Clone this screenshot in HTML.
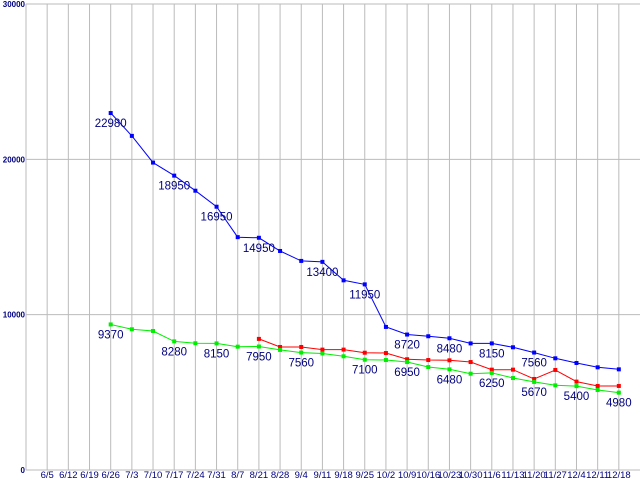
<!DOCTYPE html>
<html><head><meta charset="utf-8"><style>
html,body{margin:0;padding:0;background:#fff;}
svg{display:block;}
text{font-family:"Liberation Sans",sans-serif;}
</style></head><body>
<svg id="chart" width="640" height="480" xmlns="http://www.w3.org/2000/svg"></svg>
<script>
const categories=["6/5","6/12","6/19","6/26","7/3","7/10","7/17","7/24","7/31","8/7","8/21","8/28","9/4","9/11","9/18","9/25","10/2","10/9","10/16","10/23","10/30","11/6","11/13","11/20","11/27","12/4","12/11","12/18"];
const yTicks=[0,10000,20000,30000];
const blueStart=3;
const blueValues=[22980,21510,19790,18950,17980,16950,14990,14950,14100,13460,13400,12210,11950,9210,8720,8610,8480,8150,8150,7900,7560,7190,6890,6610,6480];
const blueLabels=[22980,null,null,18950,null,16950,null,14950,null,null,13400,null,11950,null,8720,null,8480,null,8150,null,7560,null,null,null,null];
const greenStart=3;
const greenValues=[9370,9060,8950,8280,8160,8150,7940,7950,7730,7560,7500,7320,7100,7080,6950,6630,6480,6200,6250,5920,5670,5450,5400,5150,4980];
const greenLabels=[9370,null,null,8280,null,8150,null,7950,null,7560,null,null,7100,null,6950,null,6480,null,6250,null,5670,null,5400,null,4980];
const redStart=10;
const redValues=[8440,7920,7920,7750,7750,7550,7530,7130,7080,7060,6950,6460,6460,5860,6440,5690,5410,5410];

const svg=document.getElementById('chart');
const NS='http://www.w3.org/2000/svg';
const X0=26,X1=640,Y0=470,Y1=4,YMAX=30000;
const step=(X1-X0)/(categories.length+1);
function xAt(i){return X0+step*(i+1);}
function yAt(v){return Y0-(v/YMAX)*(Y0-Y1);}
function mk(tag,attrs,parent){const e=document.createElementNS(NS,tag);for(const k in attrs)e.setAttribute(k,attrs[k]);(parent||svg).appendChild(e);return e;}

const grid=mk('g',{});


yTicks.forEach(t=>{
  const l=mk('line',{x1:X0,x2:X1,y1:yAt(t),y2:yAt(t),stroke:'#bbb','stroke-width':1},grid);
  
  
  const tx=mk('text',{x:X0-1,y:yAt(t)+3,'text-anchor':'end','font-size':8,fill:'#000080','font-weight':'bold'});
  tx.textContent=t;
  
  
});
const ax=mk('line',{x1:X0,x2:X0,y1:Y1,y2:Y0,stroke:'#bbb','stroke-width':1},grid);


categories.forEach((c,i)=>{
  const l=mk('line',{x1:xAt(i),x2:xAt(i),y1:Y1,y2:Y0,stroke:'#bbb','stroke-width':1},grid);
  
  
  const tx=mk('text',{x:xAt(i),y:478,'text-anchor':'middle','font-size':9.5,fill:'#000080','font-family':'Liberation Mono, monospace'});
  tx.textContent=c;
  
  
});

function series(name,color,start,vals,labels){
  const g=mk('g',{});
  
  
  const pts=vals.map((v,j)=>xAt(start+j).toFixed(1)+','+yAt(v).toFixed(1)).join(' ');
  const pl=mk('polyline',{points:pts,fill:'none',stroke:color,'stroke-width':1},g);
  
  
  vals.forEach((v,j)=>{
    const x=xAt(start+j),y=yAt(v);
    const r=mk('rect',{x:x-2,y:y-2,width:4,height:4,fill:color},g);
    
    
    if(labels&&labels[j]!=null){
      const t=mk('text',{x:x,y:y+14,'text-anchor':'middle','font-size':11.5,fill:'#000080'},g);
      t.textContent=labels[j];
      
      
    }
  });
}
series('red','#ff0000',redStart,redValues,null);
series('green','#00ee00',greenStart,greenValues,greenLabels);
series('blue','#0000ff',blueStart,blueValues,blueLabels);
</script>
</body></html>
